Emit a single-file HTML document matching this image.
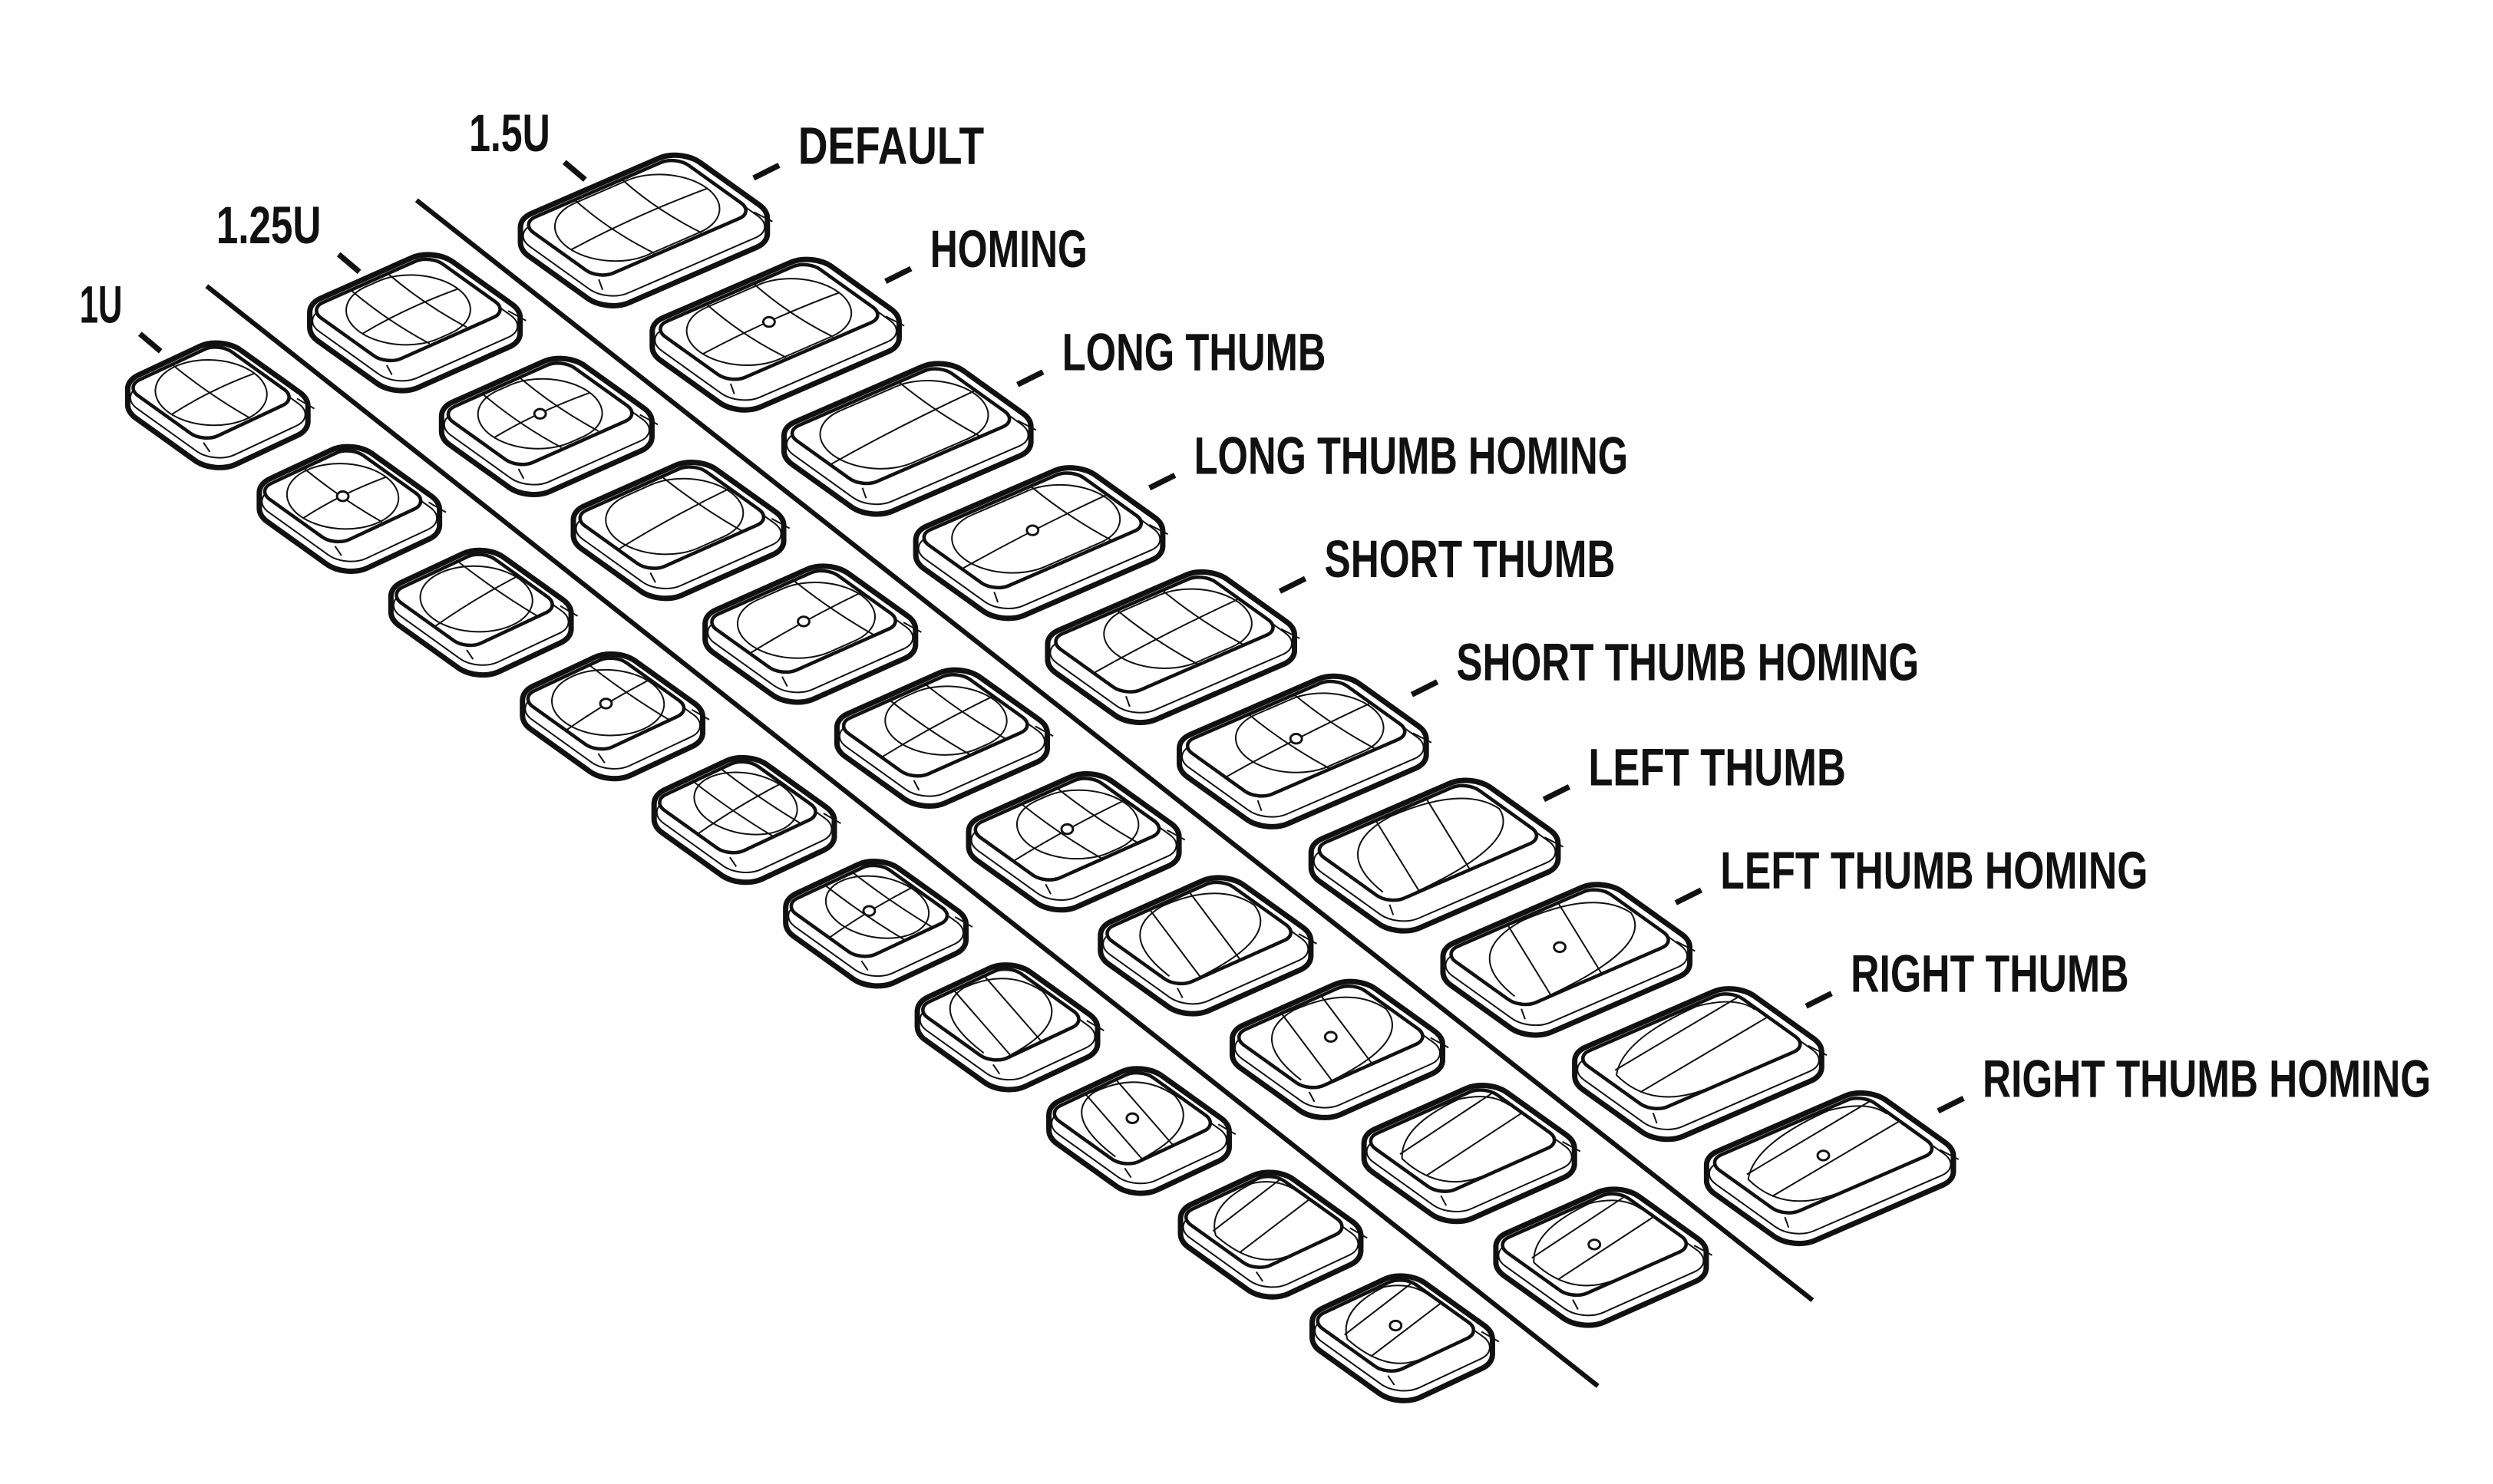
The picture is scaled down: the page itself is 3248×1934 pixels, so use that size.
<!DOCTYPE html>
<html><head><meta charset="utf-8">
<style>
html,body{margin:0;padding:0;background:#fefefe;width:3248px;height:1934px;overflow:hidden}
svg{display:block}
.ns{vector-effect:non-scaling-stroke}
text{font-family:"Liberation Sans Narrow","Liberation Sans",sans-serif;font-weight:bold;font-size:33px;fill:#111}
</style></head><body>
<svg id="s" width="3248" height="1934" viewBox="0 0 3248 1934" xmlns="http://www.w3.org/2000/svg">
<g id="root" transform="scale(2.0714)">
<g stroke="#111" stroke-width="3" stroke-linecap="butt">
<line x1="130" y1="180" x2="1005" y2="872"/>
<line x1="262" y1="126" x2="1140" y2="818"/>
</g>
<g id="keys"></g>
<g id="labels"></g>
</g>
</svg>
<script>
(function(){
var out=[];
function M(A,B,x,y){return 'matrix('+A[0]+','+A[1]+','+B[0]+','+B[1]+','+x.toFixed(2)+','+y.toFixed(2)+')';}
function key(cx,cy,A,B,h,type,col){
  var P0x=cx-A[0]/2-B[0]/2, P0y=cy-h/2-A[1]/2-B[1]/2;
  var la=Math.hypot(A[0],A[1]), lb=Math.hypot(B[0],B[1]);
  var r=14;
  var rect='<rect class="ns" x="0" y="0" width="1" height="1" rx="'+(r/la).toFixed(4)+'" ry="'+(r/lb).toFixed(4)+'"/>';
  var s='';
  s+='<g fill="#111" stroke="#111" stroke-width="14" stroke-linejoin="round">';
  for(var d=0;d<=h;d+=1)s+='<g transform="'+M(A,B,P0x,P0y+d)+'">'+rect+'</g>';
  s+='</g><g fill="#fff" stroke="none">';
  for(var d=0;d<=h;d+=1)s+='<g transform="'+M(A,B,P0x,P0y+d)+'">'+rect+'</g>';
  s+='</g>';
  s+='<g fill="none" stroke="#111" stroke-width="2"><g transform="'+M(A,B,P0x,P0y+h*0.55)+'">'+rect+'</g></g>';
  var g='<g transform="'+M(A,B,P0x,P0y)+'">';
  g+='<rect class="ns" x="0.04" y="0.02" width="0.92" height="0.82" rx="'+(10/la).toFixed(4)+'" ry="'+(10/lb).toFixed(4)+'" fill="#fff" stroke="#111" stroke-width="4.5"/>';
  g+='<g stroke="#111" stroke-width="2" fill="none">';
  g+='<line class="ns" x1="0.04" y1="0.84" x2="0.0" y2="0.95"/>';
  g+='<line class="ns" x1="0.96" y1="0.84" x2="0.98" y2="1"/>';
  g+='</g>';
  var base=type>>1, hom=type&1;
  var ry=0.38, ru=Math.min(0.44, ry*lb/la*1.05);
  var dcy=0.43;
  g+='<g stroke="#111" stroke-width="2" fill="none">';
  if(base===0){
    var w=col===0?2*ru:(col===1?0.74:0.82);
    g+='<rect class="ns" x="'+(0.5-w/2)+'" y="'+(dcy-ry)+'" width="'+w+'" height="'+(2*ry)+'" rx="'+ru+'" ry="'+ry+'"/>';
    if(col===0){g+='<path class="ns" d="M0.5,0.03 Q0.47,0.45 0.52,0.82"/>';}
    else{g+='<path class="ns" d="M0.36,0.03 Q0.33,0.45 0.38,0.82"/><path class="ns" d="M0.64,0.03 Q0.61,0.45 0.66,0.82"/>';}
    g+='<path class="ns" d="M'+(0.5-w/2)+',0.46 Q0.5,0.4 '+(0.5+w/2)+',0.44"/>';
  }else if(base===1||base===2){
    var w2=base===1?0.84:0.72;
    g+='<rect class="ns" x="'+(0.94-w2)+'" y="'+(dcy-ry)+'" width="'+w2+'" height="'+(2*ry)+'" rx="'+ru+'" ry="'+ry+'"/>';
    g+='<path class="ns" d="M0.05,0.5 Q0.5,0.42 0.95,0.4"/>';
    g+='<path class="ns" d="M0.72,0.03 Q0.7,0.45 0.74,0.83"/>';
    if(base===2)g+='<path class="ns" d="M0.45,0.03 Q0.43,0.45 0.47,0.83"/>';
  }else if(base===3){
    g+='<path class="ns" d="M0.08,0.7 Q0.1,0.1 0.5,0.04 Q0.93,0.04 0.94,0.4 Q0.85,0.8 0.2,0.83"/>';
    g+='<line class="ns" x1="0.42" y1="0.03" x2="0.22" y2="0.83"/>';
    g+='<line class="ns" x1="0.72" y1="0.03" x2="0.52" y2="0.83"/>';
  }else{
    g+='<path class="ns" d="M0.35,0.83 Q0.05,0.8 0.1,0.35 Q0.3,0.05 0.75,0.04 Q0.95,0.1 0.95,0.3"/>';
    g+='<line class="ns" x1="0.12" y1="0.3" x2="0.95" y2="0.12"/>';
    g+='<line class="ns" x1="0.1" y1="0.6" x2="0.95" y2="0.42"/>';
  }
  g+='</g></g>';
  s+=g;
  if(hom){
    var hx=P0x+A[0]*0.5+B[0]*0.43, hy=P0y+A[1]*0.5+B[1]*0.43;
    s+='<ellipse cx="'+hx.toFixed(2)+'" cy="'+hy.toFixed(2)+'" rx="3.6" ry="3" fill="#fff" stroke="#111" stroke-width="1.4"/>';
  }
  out.push(s);
}
var B=[60,43], h=10;
var cols=[
 {c0:[137,255],c9:[882,842],A:[64,-30]},
 {c0:[261,203],c9:[1007,791],A:[83,-37]},
 {c0:[405,145],c9:[1151,735],A:[106,-46]}
];
for(var c=0;c<3;c++){
  var C=cols[c];
  for(var i=0;i<10;i++){
    var x=C.c0[0]+(C.c9[0]-C.c0[0])*i/9, y=C.c0[1]+(C.c9[1]-C.c0[1])*i/9;
    key(x,y,C.A,B,h,i,c);
  }
}
document.getElementById('keys').innerHTML=out.join('');
var L=[
 ["1.5U",295,95,51,1],["1.25U",136,153,66,1],["1U",50,203,27,1],
 ["DEFAULT",502,103,117,0],["HOMING",585,168,99,0],["LONG THUMB",668,233,166,0],
 ["LONG THUMB HOMING",751,298,273,0],["SHORT THUMB",833,363,183,0],["SHORT THUMB HOMING",916,428,291,0],
 ["LEFT THUMB",999,494,162,0],["LEFT THUMB HOMING",1082,559,269,0],["RIGHT THUMB",1164,624,175,0],
 ["RIGHT THUMB HOMING",1247,690,282,0]
];
var t='';
for(var k=0;k<L.length;k++){
  var l=L[k];
  t+='<text x="'+l[1]+'" y="'+l[2]+'" textLength="'+l[3]+'" lengthAdjust="spacingAndGlyphs">'+l[0]+'</text>';
  if(l[4]){
    var tx=l[0]==="1U"?88:(l[0]==="1.5U"?355:213), ty=l[2]+7;
    t+='<line x1="'+tx+'" y1="'+ty+'" x2="'+(tx+13)+'" y2="'+(ty+11)+'" stroke="#111" stroke-width="3.5"/>';
  }else{
    t+='<line x1="'+(l[1]-28)+'" y1="'+(l[2]+9)+'" x2="'+(l[1]-12)+'" y2="'+(l[2]+1)+'" stroke="#111" stroke-width="3.5"/>';
  }
}
document.getElementById('labels').innerHTML=t;
})();
</script>
</body></html>
